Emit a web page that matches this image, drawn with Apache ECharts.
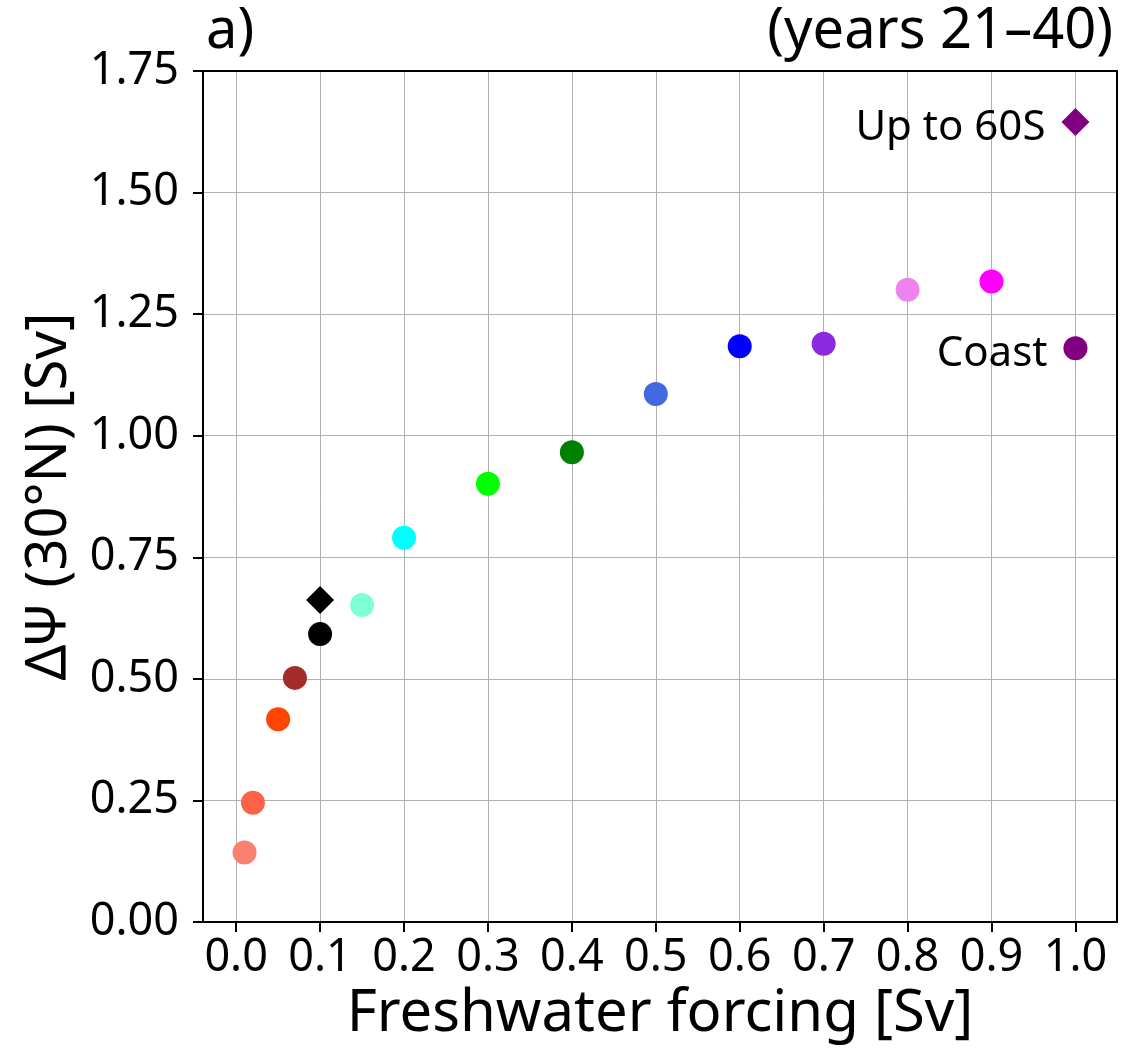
<!DOCTYPE html>
<html><head><meta charset="utf-8">
<script src="https://cdn.jsdelivr.net/npm/echarts@6/dist/echarts.min.js"></script>
<style>html,body{margin:0;padding:0;background:#fff}#c{width:1122px;height:1053px}</style>
</head><body><div id="c"></div>
<script>
// Circle markers: freshwater forcing [Sv] vs change in overturning at 30N [Sv]
const forcing = [0.01, 0.02, 0.05, 0.07, 0.1, 0.15, 0.2, 0.3, 0.4, 0.5, 0.6, 0.7, 0.8, 0.9, 1.0];
const dPsi = [0.143, 0.245, 0.417, 0.502, 0.592, 0.652, 0.790, 0.901, 0.966, 1.086, 1.184, 1.189, 1.300, 1.317, 1.180];
const pointColors = ['#fa8072', '#ff6347', '#ff4500', '#a52a2a', '#000000', '#7fffd4', '#00ffff', '#00ff00',
  '#008000', '#4169e1', '#0000ff', '#8a2be2', '#ee82ee', '#ff00ff', '#800080'];
const pointLabels = ['', '', '', '', '', '', '', '', '', '', '', '', '', '', 'Coast'];
// Diamond markers
const diamondForcing = [0.1, 1.0];
const diamondPsi = [0.662, 1.645];
const diamondColors = ['#000000', '#800080'];
const diamondLabels = ['', 'Up to 60S'];
// Axis ticks
const xTicks = [0.0, 0.1, 0.2, 0.3, 0.4, 0.5, 0.6, 0.7, 0.8, 0.9, 1.0];
const yTicks = [0, 0.25, 0.5, 0.75, 1.0, 1.25, 1.5, 1.75];

const FONT = 'Noto Sans';
const labelStyle = { show: true, position: 'left', distance: 16, offset: [0, 6], color: '#000', opacity: 1, fontFamily: FONT, fontSize: 42 };

function build(xs, ys, cols, labs) {
  return xs.map((x, i) => {
    const d = { value: [x, ys[i]], itemStyle: { color: cols[i], opacity: 1 } };
    if (labs[i]) d.label = Object.assign({ formatter: labs[i] }, labelStyle);
    return d;
  });
}

const XMIN = -0.0395, XMAX = 1.0495;
const chart = echarts.init(document.getElementById('c'), null, { renderer: 'canvas' });
chart.setOption({
  backgroundColor: '#fff',
  animation: false,
  title: [
    { text: 'a)', left: 201, top: -1, textStyle: { fontFamily: FONT, fontSize: 56, fontWeight: 'normal', color: '#000' } },
    { text: '(years 21\u201340)', right: 4, top: -1, textStyle: { fontFamily: FONT, fontSize: 56, fontWeight: 'normal', color: '#000' } }
  ],
  grid: { left: 203, right: 5, top: 71, bottom: 131, containLabel: false },
  xAxis: [{
    type: 'value', min: XMIN, max: XMAX,
    name: 'Freshwater forcing [Sv]', nameLocation: 'middle', nameGap: 60,
    nameTextStyle: { fontFamily: FONT, fontSize: 58, color: '#000' },
    axisLine: { show: true, onZero: false, lineStyle: { color: '#000', width: 2 } },
    axisTick: { show: true, length: 10, lineStyle: { color: '#000', width: 2 }, customValues: xTicks },
    axisLabel: { customValues: xTicks, formatter: v => v.toFixed(1), fontFamily: FONT, fontSize: 45, color: '#000', margin: 14 },
    splitLine: { show: true, lineStyle: { color: '#b0b0b0', width: 1 } }
  }, {
    type: 'value', position: 'top', min: XMIN, max: XMAX, z: 10,
    axisLine: { show: true, onZero: false, lineStyle: { color: '#000', width: 2 } },
    axisTick: { show: false }, axisLabel: { show: false }, splitLine: { show: false }
  }],
  yAxis: [{
    type: 'value', min: 0, max: 1.75, interval: 0.25,
    name: '\u0394\u03a8 (30\u00b0N) [Sv]', nameLocation: 'middle', nameGap: 125,
    nameTextStyle: { fontFamily: FONT, fontSize: 56, color: '#000' },
    axisLine: { show: true, onZero: false, lineStyle: { color: '#000', width: 2 } },
    axisTick: { show: true, length: 10, lineStyle: { color: '#000', width: 2 } },
    axisLabel: { formatter: v => v.toFixed(2), fontFamily: FONT, fontSize: 45, color: '#000', margin: 24 },
    splitLine: { show: true, lineStyle: { color: '#b0b0b0', width: 1 } }
  }, {
    type: 'value', position: 'right', min: 0, max: 1.75, z: 10,
    axisLine: { show: true, onZero: false, lineStyle: { color: '#000', width: 2 } },
    axisTick: { show: false }, axisLabel: { show: false }, splitLine: { show: false }
  }],
  series: [
    { type: 'scatter', symbol: 'circle', symbolSize: 24, data: build(forcing, dPsi, pointColors, pointLabels), z: 3 },
    { type: 'scatter', symbol: 'diamond', symbolSize: 28, data: build(diamondForcing, diamondPsi, diamondColors, diamondLabels), z: 4 }
  ]
});
</script></body></html>
